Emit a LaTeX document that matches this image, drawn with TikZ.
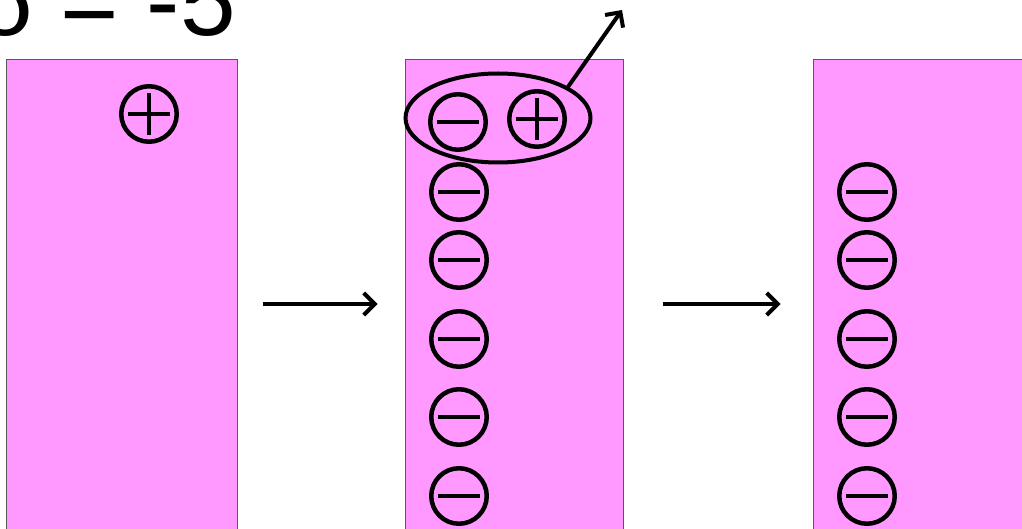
\documentclass[tikz,border=0pt]{standalone}
\usepackage{fontspec}
\setmainfont{Liberation Sans}
\usepackage{xcolor}
\usetikzlibrary{positioning,arrows.meta,shapes.geometric}
\definecolor{slabpink}{HTML}{FF99FF}
\tikzset{
slab/.style={
draw=black!65,
line width=1pt,
fill=slabpink,
minimum height=488pt,
inner sep=0pt
},
charge/.style={
circle,
draw,
line width=4.5pt,
minimum size=55.5pt,
inner sep=0pt
},
negcharge/.style={
charge,
path picture={\draw[line width=4.5pt]
([xshift=-21pt]path picture bounding box.center)--([xshift=21pt]path picture bounding box.center);}
},
poscharge/.style={
charge,
path picture={\draw[line width=4.5pt]
([xshift=-21pt]path picture bounding box.center)--([xshift=21pt]path picture bounding box.center)
([yshift=-21pt]path picture bounding box.center)--([yshift=21pt]path picture bounding box.center);}
},
arrow/.style={
-{Straight Barb[length=11pt,width=22pt]},
line width=4pt
}
}

\begin{document}
\begin{tikzpicture}[x=1pt,y=-1pt]
\useasboundingbox (0,0) rectangle (1022,529);
\clip (0,0) rectangle (1022,529);

\node[anchor=base east,inner sep=0pt,font=\fontsize{100}{120}\selectfont](title) at (236,36){δ = -5};

\node[slab,minimum width=231pt](box1) at (121.5,304){};
\node[slab,minimum width=218pt](box2) at (514,304){};
\node[slab,minimum width=218pt](box3) at (922,304){};

% before
\node[poscharge](p1) at (149,114){};

% pair leaving
\node[negcharge](n0) at (458,122){};
\node[poscharge](p2) at (537,119){};
\node[ellipse,draw,line width=4pt,minimum width=185pt,minimum height=89pt](pair) at (498,118){};
\coordinate (out) at (622,10);
\draw[arrow](pair.24)--(out);

% left behind
\foreach \y [count=\i] in {192,260,339,417,496}{
\node[negcharge](m\i) at (459,\y){};
\node[negcharge](r\i) at (867,\y){};
}

\draw[arrow]([xshift=25pt]box1.east)--([xshift=-27pt]box2.west);
\draw[arrow]([xshift=39pt]box2.east)--([xshift=-32pt]box3.west);
\end{tikzpicture}
\end{document}
